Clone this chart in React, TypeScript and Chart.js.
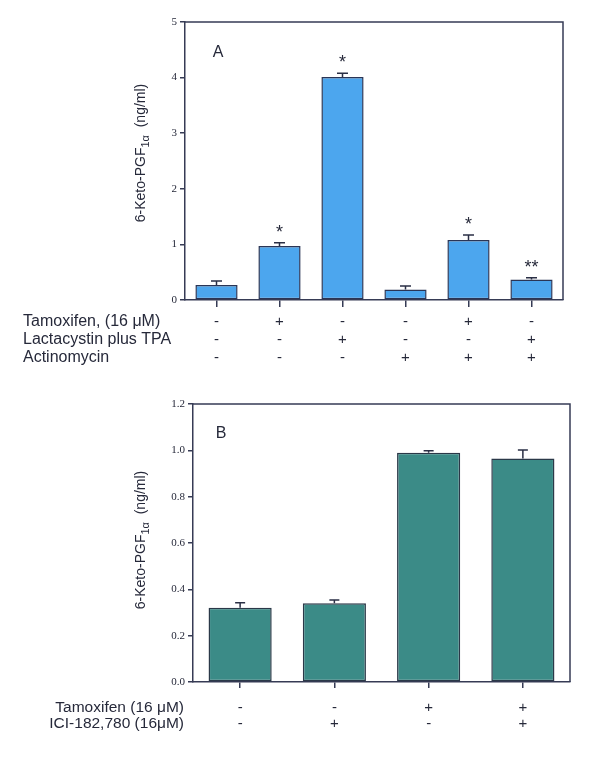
import React, { useEffect, useRef } from 'react';
import { Chart, registerables } from 'chart.js';

Chart.register(...registerables);

// ---------- Panel A data ----------
const topTamoxifen = ['-', '+', '-', '-', '+', '-'];
const topLactacystin = ['-', '-', '+', '-', '-', '+'];
const topActinomycin = ['-', '-', '-', '+', '+', '+'];
const topRowLabels = ['Tamoxifen, (16 μM)', 'Lactacystin plus TPA', 'Actinomycin'];
const topValues = [0.27, 0.97, 4.01, 0.19, 1.08, 0.37];
const topErrors = [0.07, 0.06, 0.07, 0.06, 0.09, 0.03];
const topStars = ['', '*', '*', '', '*', '**'];
const topTicks = [0, 1, 2, 3, 4, 5];

// ---------- Panel B data ----------
const bottomTamoxifen = ['-', '-', '+', '+'];
const bottomICI = ['-', '+', '-', '+'];
const bottomRowLabels = ['Tamoxifen (16 μM)', 'ICI-182,780 (16μM)'];
const bottomValues = [0.32, 0.34, 0.99, 0.965];
const bottomErrors = [0.022, 0.014, 0.008, 0.036];
const bottomTicks = [0, 0.2, 0.4, 0.6, 0.8, 1.0, 1.2];

const AXIS = '#363b55';
const TEXT = '#26293a';
const SANS = '"Liberation Sans", Arial, sans-serif';
const SERIF = '"Liberation Serif", "Times New Roman", serif';

function drawYTitle(ctx: CanvasRenderingContext2D, cx: number, cy: number, size: number) {
  const p1 = '6-Keto-PGF';
  const p2 = '1α';
  const p3 = '  (ng/ml)';
  const mainFont = `${size}px ${SANS}`;
  const subFont = `${Math.round(size * 0.78)}px ${SANS}`;
  ctx.save();
  ctx.translate(cx, cy);
  ctx.rotate(-Math.PI / 2);
  ctx.fillStyle = TEXT;
  ctx.textBaseline = 'middle';
  ctx.textAlign = 'left';
  ctx.font = mainFont;
  const w1 = ctx.measureText(p1).width;
  const w3 = ctx.measureText(p3).width;
  ctx.font = subFont;
  const w2 = ctx.measureText(p2).width;
  let x = -(w1 + w2 + w3) / 2;
  ctx.font = mainFont;
  ctx.fillText(p1, x, 0);
  x += w1;
  ctx.font = subFont;
  ctx.fillText(p2, x, size * 0.32);
  x += w2;
  ctx.font = mainFont;
  ctx.fillText(p3, x, 0);
  ctx.restore();
}

interface PanelCfg {
  values: number[];
  errors: number[];
  stars: string[];
  rows: string[][];
  rowLabels: string[];
  rowAlign: 'left' | 'right';
  rowX: number;
  rowFont: number;
  lineHeight: number;
  tickLen: number;
  labelPad: number;
  capHalf: number;
  letter: string;
  letterDx: number;
  letterDy: number;
  titleX: number;
  titleDy: number;
}

function makePlugin(cfg: PanelCfg) {
  return {
    id: 'panelExtras',
    afterDatasetsDraw(chart: any) {
      const ctx: CanvasRenderingContext2D = chart.ctx;
      const xs = chart.scales.x;
      const ys = chart.scales.y;
      const a = chart.chartArea;
      ctx.save();
      // box top/right
      ctx.strokeStyle = AXIS;
      ctx.lineWidth = 1.5;
      ctx.beginPath();
      ctx.moveTo(a.left, a.top);
      ctx.lineTo(a.right, a.top);
      ctx.lineTo(a.right, a.bottom);
      ctx.stroke();
      // error bars
      ctx.strokeStyle = '#2a2f45';
      ctx.lineWidth = 1.5;
      cfg.values.forEach((v, i) => {
        const px = xs.getPixelForValue(i);
        const y0 = ys.getPixelForValue(v);
        const y1 = ys.getPixelForValue(v + cfg.errors[i]);
        ctx.beginPath();
        ctx.moveTo(px, y0);
        ctx.lineTo(px, y1);
        ctx.moveTo(px - cfg.capHalf, y1);
        ctx.lineTo(px + cfg.capHalf, y1);
        ctx.stroke();
        const s = cfg.stars[i];
        if (s) {
          ctx.fillStyle = TEXT;
          ctx.font = `18px ${SANS}`;
          ctx.textAlign = 'center';
          ctx.textBaseline = 'middle';
          ctx.fillText(s, px, y1 - 10);
        }
      });
      // panel letter
      ctx.fillStyle = TEXT;
      ctx.font = `16px ${SANS}`;
      ctx.textAlign = 'center';
      ctx.textBaseline = 'middle';
      ctx.fillText(cfg.letter, a.left + cfg.letterDx, a.top + cfg.letterDy);
      // row labels
      ctx.font = `${cfg.rowFont}px ${SANS}`;
      ctx.textAlign = cfg.rowAlign;
      const first = a.bottom + cfg.tickLen + cfg.labelPad + cfg.lineHeight / 2;
      cfg.rowLabels.forEach((t, r) => {
        ctx.fillText(t, cfg.rowX, first + r * cfg.lineHeight);
      });
      // y title
      drawYTitle(ctx, cfg.titleX, (a.top + a.bottom) / 2 + cfg.titleDy, 14);
      ctx.restore();
    },
  };
}

function buildChart(
  canvas: HTMLCanvasElement,
  cfg: PanelCfg,
  color: string,
  border: string,
  ticks: number[],
  yMax: number,
  step: number,
  decimals: number,
  yWidth: number,
  xHeight: number,
  padding: { top: number; right: number; bottom: number; left: number }
) {
  const labels = cfg.values.map((_, i) => cfg.rows.map((r) => r[i]));
  return new Chart(canvas, {
    type: 'bar',
    data: {
      labels,
      datasets: [
        {
          data: cfg.values,
          backgroundColor: color,
          borderColor: border,
          borderWidth: 1.5,
          borderSkipped: false,
          categoryPercentage: 1,
          barPercentage: 0.67,
        },
      ],
    },
    plugins: [makePlugin(cfg)],
    options: {
      animation: false,
      responsive: false,
      maintainAspectRatio: false,
      devicePixelRatio: 1,
      layout: { padding },
      plugins: { legend: { display: false }, tooltip: { enabled: false }, title: { display: false } },
      scales: {
        x: {
          grid: {
            offset: false,
            drawOnChartArea: false,
            color: AXIS,
            tickLength: cfg.tickLen,
            lineWidth: 1.5,
            tickColor: AXIS,
          },
          border: { color: AXIS, width: 1.5 },
          ticks: {
            color: TEXT,
            font: { family: SANS, size: 15, lineHeight: cfg.lineHeight / 15 },
            padding: cfg.labelPad,
            maxRotation: 0,
            minRotation: 0,
            autoSkip: false,
          },
          afterFit: (s: any) => {
            s.height = xHeight;
          },
        },
        y: {
          min: 0,
          max: yMax,
          grid: { drawOnChartArea: false, color: AXIS, tickLength: 5, lineWidth: 1.5, tickColor: AXIS },
          border: { color: AXIS, width: 1.5 },
          afterBuildTicks: (s: any) => {
            s.ticks = ticks.map((v) => ({ value: v }));
          },
          ticks: {
            stepSize: step,
            color: TEXT,
            padding: 3,
            font: { family: SERIF, size: 11 },
            callback: (v: any) => Number(v).toFixed(decimals),
          },
          afterFit: (s: any) => {
            s.width = yWidth;
          },
        },
      },
    },
  } as any);
}

export default function App() {
  const topRef = useRef<HTMLCanvasElement>(null);
  const botRef = useRef<HTMLCanvasElement>(null);

  useEffect(() => {
    const topCfg: PanelCfg = {
      values: topValues,
      errors: topErrors,
      stars: topStars,
      rows: [topTamoxifen, topLactacystin, topActinomycin],
      rowLabels: topRowLabels,
      rowAlign: 'left',
      rowX: 23,
      rowFont: 16,
      lineHeight: 18,
      tickLen: 7,
      labelPad: 6,
      capHalf: 5.5,
      letter: 'A',
      letterDx: 33,
      letterDy: 31,
      titleX: 141,
      titleDy: -8,
    };
    const botCfg: PanelCfg = {
      values: bottomValues,
      errors: bottomErrors,
      stars: [],
      rows: [bottomTamoxifen, bottomICI],
      rowLabels: bottomRowLabels,
      rowAlign: 'right',
      rowX: 184,
      rowFont: 15.5,
      lineHeight: 16,
      tickLen: 6,
      labelPad: 12,
      capHalf: 5,
      letter: 'B',
      letterDx: 28,
      letterDy: 30,
      titleX: 141,
      titleDy: -3,
    };
    const c1 = buildChart(topRef.current!, topCfg, '#4ca6ee', '#2a3556', topTicks, 5, 1, 0, 185, 70, {
      top: 22,
      right: 37,
      bottom: 0,
      left: 0,
    });
    const c2 = buildChart(botRef.current!, botCfg, '#3b8b87', '#2b3848', bottomTicks, 1.2, 0.2, 1, 193, 92, {
      top: 34,
      right: 30,
      bottom: 0,
      left: 0,
    });
    return () => {
      c1.destroy();
      c2.destroy();
    };
  }, []);

  return (
    <div style={{ position: 'fixed', left: 0, top: 0, width: 600, height: 774, background: '#ffffff' }}>
      <canvas ref={topRef} width={600} height={370} style={{ position: 'absolute', left: 0, top: 0 }} />
      <canvas ref={botRef} width={600} height={404} style={{ position: 'absolute', left: 0, top: 370 }} />
    </div>
  );
}
